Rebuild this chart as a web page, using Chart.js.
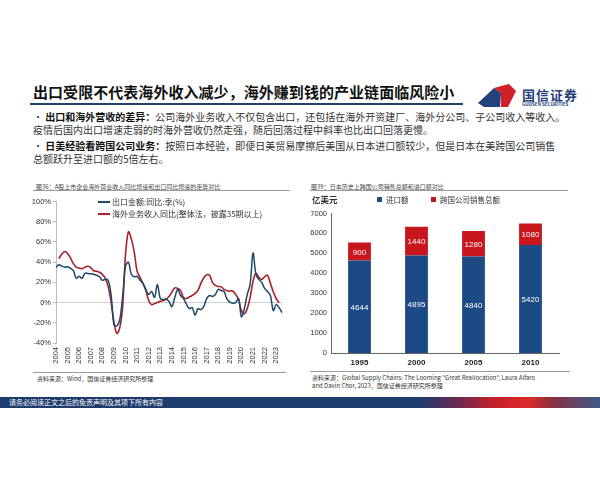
<!DOCTYPE html>
<html><head><meta charset="utf-8">
<script src="https://cdn.jsdelivr.net/npm/chart.js@4.4.1/dist/chart.umd.min.js"></script>
<style>
html,body{margin:0;padding:0;background:#fff;}
#page{position:relative;width:600px;height:480px;overflow:hidden;background:#fff;font-family:"Noto Sans CJK SC","Noto Sans",sans-serif;color:#222;}
.abs{position:absolute;white-space:nowrap;}
#title{left:33px;top:81px;font-size:15px;font-weight:bold;color:#111;letter-spacing:0.05px;}
#tline{left:30px;top:103px;width:433px;height:2px;background:#24406e;}
.bul{left:33px;font-size:10px;line-height:13px;color:#333;}
.bul b{color:#111;}
.ctitle{font-size:6px;color:#444;top:182px;}
.hline{height:1px;background:#9a9a9a;}
.src{font-size:6px;color:#333;line-height:8px;}
.leg{font-size:8px;color:#333;}
#footer{left:0;top:397px;width:600px;height:11px;background:linear-gradient(90deg,#1d3b6c 0%,#1d3b6c 70%,#5a2d5a 75%,#c0202c 82%,#e02a2a 88%,#8a3040 92%,#3a5a8a 100%);}
#ftext{left:9px;top:398px;font-size:7px;line-height:9px;color:#fff;}
</style></head>
<body><div id="page">
<div class="abs" id="title">出口受限不代表海外收入减少，海外赚到钱的产业链面临风险小</div>
<div class="abs" id="tline"></div>
<svg class="abs" style="left:474px;top:80px;" width="50" height="30" viewBox="0 0 50 30">
  <polygon points="4,23 20,8 27,13 26,27 10,27" fill="#25417a"/>
  <polygon points="20,8 35,4 42,11 34,27 27,27 27,13" fill="#d0202a"/>
</svg>
<div class="abs" style="left:522px;top:85px;font-size:13px;font-weight:bold;color:#25407a;letter-spacing:1px;">国信证券</div>
<div class="abs" style="left:522px;top:101px;font-size:4.5px;font-weight:bold;color:#25407a;">GUOSEN SECURITIES</div>

<div class="abs bul" style="top:110px;">· <b>出口和海外营收的差异：</b>公司海外业务收入不仅包含出口，还包括在海外开资建厂、海外分公司、子公司收入等收入。<br>疫情后国内出口增速走弱的时海外营收仍然走强，随后回落过程中斜率也比出口回落更慢。</div>
<div class="abs bul" style="top:139px;">· <b>日美经验看跨国公司业务：</b>按照日本经验，即便日美贸易摩擦后美国从日本进口额较少，但是日本在美跨国公司销售<br>总额跃升至进口额的5倍左右。</div>

<div class="abs ctitle" style="left:36px;">图36：A股上市企业海外营业收入同比增速和出口同比增速的走势对比</div>
<div class="abs hline" style="left:33px;top:190px;width:257px;"></div>
<div class="abs ctitle" style="left:311px;">图39：日本历史上跨国公司销售总额和进口额对比</div>
<div class="abs hline" style="left:310px;top:190px;width:258px;"></div>

<canvas id="c1" class="abs" style="left:30px;top:195px;" width="265" height="173"></canvas>
<canvas id="c2" class="abs" style="left:300px;top:205px;" width="265" height="164"></canvas>

<div class="abs" style="left:98px;top:201px;width:12px;height:2px;background:#1f4868;"></div>
<div class="abs leg" style="left:112px;top:196px;">出口金额:同比:季(%)</div>
<div class="abs" style="left:98px;top:213px;width:12px;height:2px;background:#a8212b;"></div>
<div class="abs leg" style="left:112px;top:208px;">海外业务收入同比(整体法，披露35期以上)</div>

<div class="abs" style="left:312px;top:193px;font-size:8.5px;font-weight:bold;color:#333;">亿美元</div>
<div class="abs" style="left:377px;top:197px;width:5px;height:5px;background:#1c4a85;"></div>
<div class="abs leg" style="left:386px;top:194px;font-size:7.5px;">进口额</div>
<div class="abs" style="left:431px;top:197px;width:5px;height:5px;background:#c8161d;"></div>
<div class="abs leg" style="left:440px;top:194px;font-size:7.5px;">跨国公司销售总额</div>

<div class="abs hline" style="left:33px;top:372px;width:253px;"></div>
<div class="abs src" style="left:37px;top:375px;">资料来源：Wind，国信证券经济研究所整理</div>
<div class="abs hline" style="left:310px;top:371px;width:260px;"></div>
<div class="abs src" style="left:312px;top:374px;">资料来源：Global Supply Chains: The Looming "Great Reallocation", Laura Alfaro<br>and Davin Chor, 2023，国信证券经济研究所整理</div>

<div class="abs" id="footer"></div>
<div class="abs" id="ftext">请务必阅读正文之后的免责声明及其项下所有内容</div>
</div>
<script>
// ---- Left chart data (quarterly, 2004Q1 - 2023Q3) ----
const yearTicks = ['2004','2005','2006','2007','2008','2009','2010','2011','2012','2013','2014','2015','2016','2017','2018','2019','2020','2021','2022','2023'];
const quarterNames = ['Q1','Q2','Q3','Q4'];
const exportGrowth = [35,37.5,36,35,35.5,34,31.5,24,26,24,
  29,28.7,28.5,28,27,25.5,22,23,22,8,
  -22,-23,-17,6,36,40,28,25.5,26,22,
  19,13,8,11,5,18,4,3,3.5,1,
  -4,5,13,7,4,-1.5,-6,-5,-12.5,-6,
  -7,-4,4,7,6,8,13,12,11,3.6,
  0.5,-0.6,0,4,-14,-6,8,18,49,28,
  23,20,14,11,7,-8,-2,-5,-10];
const overseasRevenueGrowth = [null,43.5,48,50.5,48.5,44,38.5,35,34,33.6,
  35,36,34.6,31.5,31,30,28,24,16,1,
  -19,-30.5,-25,-4,48,70,63,50,31,25,
  19,12,2,-2,-1,0,1.3,2,3.5,6,
  10.5,14.5,14,12,5,4,5.5,7,9,12,
  19,24.5,27.5,27,20,17,16,15.5,13,11.7,
  11.5,11.5,8,3,-8,-11,-6,5,21,29,
  25,23,25.5,27,19,10.5,4,0,null];
const quarterLabels = [];
yearTicks.forEach(y => quarterNames.forEach(q => quarterLabels.push(y + q)));
quarterLabels.length = exportGrowth.length;

// ---- Right chart data ----
const barYears = ['1995','2000','2005','2010'];
const importValues = [4644,4895,4840,5420];
const mncSalesValues = [900,1440,1280,1080];

const numFont = {family:'"Liberation Sans", Arial, sans-serif', size:7.5};

new Chart(document.getElementById('c1'), {
  type:'line',
  data:{labels:quarterLabels, datasets:[
    {label:'出口金额:同比:季(%)', data:exportGrowth, borderColor:'#1f4868', borderWidth:1.5, pointRadius:0, tension:0.35, fill:false},
    {label:'海外业务收入同比(整体法，披露35期以上)', data:overseasRevenueGrowth, borderColor:'#a8212b', borderWidth:1.6, pointRadius:0, tension:0.35, fill:false, spanGaps:false}
  ]},
  options:{
    responsive:false, animation:false, devicePixelRatio:1,
    layout:{padding:{top:5,right:2,left:0,bottom:0}},
    plugins:{legend:{display:false}, tooltip:{enabled:false}},
    scales:{
      x:{
        grid:{display:false, drawTicks:false},
        border:{display:false},
        ticks:{autoSkip:false, minRotation:90, maxRotation:90, padding:4, color:'#333', font:numFont,
          callback:function(v,i){ const l=this.getLabelForValue(v); return l.endsWith('Q1') ? l.slice(0,4) : ''; }},
        afterFit:s=>{s.height=25;}
      },
      y:{
        min:-40, max:100,
        ticks:{stepSize:20, color:'#333', font:numFont, padding:2, callback:v=>v+'%'},
        grid:{drawOnChartArea:true, tickLength:3, color:c=>c.tick && c.tick.value===0 ? '#d0d0d0' : 'rgba(0,0,0,0)', tickColor:'#bbb'},
        border:{display:true, color:'#bbb'},
        afterFit:s=>{s.width=26;}
      }
    }
  }
});

const barLabelPlugin = {
  id:'barLabels',
  afterDatasetsDraw(chart){
    const ctx = chart.ctx;
    ctx.save();
    ctx.fillStyle = '#fff';
    ctx.font = '8px "Liberation Sans", Arial, sans-serif';
    ctx.textAlign = 'center';
    ctx.textBaseline = 'middle';
    chart.data.datasets.forEach((ds, di) => {
      const meta = chart.getDatasetMeta(di);
      meta.data.forEach((el, i) => {
        const yc = (el.y + el.base) / 2;
        ctx.fillText(String(ds.data[i]), el.x, yc + 1);
      });
    });
    ctx.restore();
  }
};

new Chart(document.getElementById('c2'), {
  type:'bar',
  data:{labels:barYears, datasets:[
    {label:'进口额', data:importValues, backgroundColor:'#1c4a85', barPercentage:0.4, categoryPercentage:1},
    {label:'跨国公司销售总额', data:mncSalesValues, backgroundColor:'#c8161d', barPercentage:0.4, categoryPercentage:1}
  ]},
  options:{
    responsive:false, animation:false, devicePixelRatio:1,
    layout:{padding:{top:7,right:6,left:0,bottom:0}},
    plugins:{legend:{display:false}, tooltip:{enabled:false}},
    scales:{
      x:{stacked:true, grid:{display:false, drawTicks:false}, border:{display:true, color:'#666'},
        ticks:{color:'#222', padding:5, font:{family:'"Liberation Sans", Arial, sans-serif', size:8, weight:'bold'}},
        afterFit:s=>{s.height=16;}},
      y:{stacked:true, min:0, max:7000,
        ticks:{stepSize:1000, color:'#333', font:numFont, padding:4, callback:v=>String(v)},
        grid:{display:false, drawTicks:false}, border:{display:true, color:'#666'},
        afterFit:s=>{s.width=31;}}
    }
  },
  plugins:[barLabelPlugin]
});
</script>
</body></html>
